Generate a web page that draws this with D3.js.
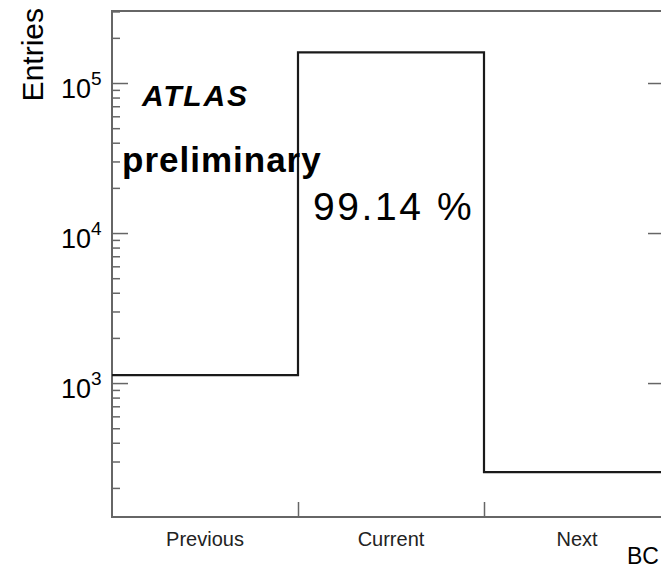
<!DOCTYPE html>
<html>
<head>
<meta charset="utf-8">
<title>BC entries</title>
<script src="https://cdn.jsdelivr.net/npm/d3@7"></script>
<style>
  body {
    margin: 0;
    overflow: hidden;
    background: #fff;
    font-family: "Liberation Sans", Arial, Helvetica, sans-serif;
  }
</style>
</head>
<body>
<svg id="chart" width="700" height="580"></svg>
<script>
const bins = ["Previous", "Current", "Next"];
const entries = [1130, 160000, 255];
const yRange = [128, 302000];
const yLabelPowers = [3, 4, 5];

const svg = d3.select("#chart");
const frameLeft = 112, frameRight = 670, frameTop = 11, frameBottom = 517;

const x = d3.scaleLinear().domain([0, bins.length]).range([frameLeft, frameRight]);
const y = d3.scaleLog().domain(yRange).range([frameBottom, frameTop]);

const allTicks = y.ticks();
const isMajor = v => Math.abs(Math.log10(v) - Math.round(Math.log10(v))) < 1e-9;
const majors = allTicks.filter(isMajor);
const minors = allTicks.filter(v => !isMajor(v));

const styleTicks = g => {
  g.select(".domain").remove();
  g.selectAll("line").attr("stroke", "#666").attr("stroke-width", 1.5);
};

// y ticks pointing inwards; left side gets minors too
[[minors, 8], [majors, 16]].forEach(([vals, len]) => {
  svg.append("g").attr("transform", `translate(${frameLeft},0)`)
    .call(d3.axisLeft(y).tickValues(vals).tickSize(-len).tickFormat(""))
    .call(styleTicks);
});
svg.append("g").attr("transform", `translate(${frameRight},0)`)
  .call(d3.axisRight(y).tickValues(majors).tickSize(-22).tickFormat(""))
  .call(styleTicks);

// x ticks at bin edges
svg.append("g").attr("transform", `translate(0,${frameBottom})`)
  .call(d3.axisBottom(x).tickValues(d3.range(1, bins.length)).tickSize(-15).tickFormat(""))
  .call(styleTicks);

// frame
svg.append("rect")
  .attr("x", frameLeft).attr("y", frameTop)
  .attr("width", frameRight - frameLeft).attr("height", frameBottom - frameTop)
  .attr("fill", "none").attr("stroke", "#666").attr("stroke-width", 2);

// histogram
const steps = entries.map((v, i) => [i, v]).concat([[bins.length, entries[entries.length - 1]]]);
svg.append("path")
  .datum(steps)
  .attr("fill", "none")
  .attr("stroke", "#1a1a1a")
  .attr("stroke-width", 2.2)
  .attr("d", d3.line().x(d => x(d[0])).y(d => y(d[1])).curve(d3.curveStepAfter));

// bin labels
svg.append("g").selectAll("text")
  .data(bins)
  .enter()
  .append("text")
  .attr("x", (d, i) => x(i + 0.5))
  .attr("y", 546)
  .attr("text-anchor", "middle")
  .attr("font-size", 20)
  .attr("fill", "#222")
  .text(d => d);

// y labels 10^n
const yl = svg.append("g").selectAll("text")
  .data(yLabelPowers)
  .enter()
  .append("text")
  .attr("x", 61)
  .attr("y", p => y(Math.pow(10, p)) + 15)
  .attr("font-size", 27)
  .attr("fill", "#000");
yl.append("tspan").text("10");
yl.append("tspan").attr("font-size", 19).attr("dy", -13).text(p => p);

// axis titles
svg.append("text")
  .attr("transform", "translate(43,8) rotate(-90)")
  .attr("text-anchor", "end")
  .attr("font-size", 30)
  .text("Entries");

svg.append("text")
  .attr("x", 627).attr("y", 564)
  .attr("font-size", 23)
  .text("BC");

// annotations
svg.append("text")
  .attr("x", 142).attr("y", 105.5)
  .attr("font-size", 30)
  .attr("font-weight", "bold")
  .attr("font-style", "italic")
  .attr("letter-spacing", 1.8)
  .text("ATLAS");

svg.append("text")
  .attr("x", 122).attr("y", 172)
  .attr("font-size", 35)
  .attr("font-weight", "bold")
  .attr("letter-spacing", 1)
  .text("preliminary");

svg.append("text")
  .attr("x", 313).attr("y", 220)
  .attr("font-size", 39)
  .attr("letter-spacing", 2.6)
  .text(d3.format(".2f")(entries[1] / d3.sum(entries) * 100) + " %");
</script>
</body>
</html>
